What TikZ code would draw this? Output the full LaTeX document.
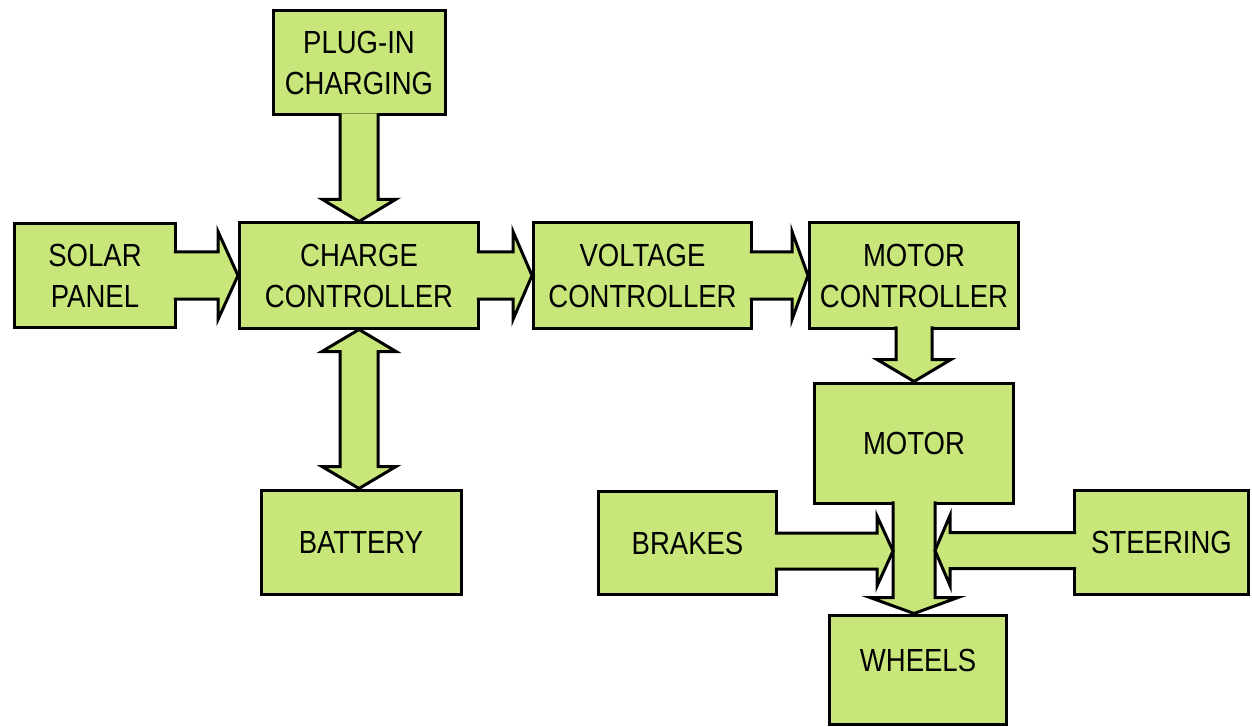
\documentclass[tikz,border=0pt]{standalone}
\usepackage{fontspec}
\setmainfont{Liberation Sans}[FakeStretch=0.86]
\usetikzlibrary{positioning, calc}

\definecolor{boxgreen}{RGB}{200,230,122}

\tikzset{
    box/.style={draw, line width=1.5pt, fill=boxgreen, align=center, inner sep=0pt,
                font=\fontsize{16}{20.5}\selectfont},
    barrow/.style={draw, line width=1.5pt, fill=boxgreen, line join=miter}
}

% block arrows: tail, tip, shaft half width, head half width, head length (signed)
\newcommand\hbarrow[5]{%
    \draw[barrow] let \p1=#1, \p2=#2 in
        ({\x1-(#5)/abs(#5)*1.6pt},{\y1+#3}) -- ({\x2-(#5)},{\y1+#3}) -- ({\x2-(#5)},{\y1+#4})
        -- (\x2,\y1) -- ({\x2-(#5)},{\y1-#4}) -- ({\x2-(#5)},{\y1-#3})
        -- ({\x1-(#5)/abs(#5)*1.6pt},{\y1-#3});}
\newcommand\vbarrow[5]{%
    \draw[barrow] let \p1=#1, \p2=#2 in
        ({\x1+#3},{\y1-(#5)/abs(#5)*1.6pt}) -- ({\x1+#3},{\y2-(#5)}) -- ({\x1+#4},{\y2-(#5)})
        -- (\x1,\y2) -- ({\x1-#4},{\y2-(#5)}) -- ({\x1-#3},{\y2-(#5)})
        -- ({\x1-#3},{\y1-(#5)/abs(#5)*1.6pt});}

\begin{document}
\begin{tikzpicture}[x=0.5pt, y=-0.5pt]

    \path[fill=white] (0,0) rectangle (1252,727);
    \useasboundingbox (0,0) rectangle (1252,727);

    \node(solar)[box, minimum width=80.5pt, minimum height=52pt] at (95,275.5) {SOLAR\\PANEL};
    \node(charge)[box, minimum width=119.5pt, minimum height=52.5pt, right=30.5pt of solar]{CHARGE\\CONTROLLER};
    \node(volt)[box, minimum width=109pt, minimum height=52.5pt, right=26pt of charge]{VOLTAGE\\CONTROLLER};
    \node(motorctrl)[box, minimum width=104.5pt, minimum height=52.5pt, right=27.5pt of volt]{MOTOR\\CONTROLLER};
    \node(plugin)[box, minimum width=86pt, minimum height=52pt, above=52.5pt of charge]{PLUG-IN\\CHARGING};
    \node(battery)[box, minimum width=100pt, minimum height=52pt, below=79.5pt of charge, xshift=1pt]{BATTERY};
    \node(motor)[box, minimum width=99.5pt, minimum height=60pt, below=26pt of motorctrl]{MOTOR};
    \node(wheels)[box, minimum width=88.5pt, minimum height=54.5pt, text depth=9pt, below=54.5pt of motor, xshift=2pt]{WHEELS};
    \node(brakes)[box, minimum width=89pt, minimum height=51.5pt] at (687.5,543) {BRAKES};
    \node(steering)[box, minimum width=87pt, minimum height=52pt] at (1161.5,542.5) {STEERING};

    \coordinate(brakein) at ([xshift=-10.5pt]motor.south);
    \coordinate(steerin) at ([xshift=10.5pt]motor.south);

    \vbarrow{(plugin.south)}{(charge.north)}{9.5pt}{18.25pt}{-11pt}
    \hbarrow{(solar.east)}{(charge.west)}{11.75pt}{22pt}{10pt}
    \hbarrow{(charge.east)}{(volt.west)}{11.75pt}{22pt}{9.5pt}
    \hbarrow{(volt.east)}{(motorctrl.west)}{11.75pt}{22pt}{8pt}
    \vbarrow{(motorctrl.south)}{(motor.north)}{9pt}{18.5pt}{-11pt}
    \vbarrow{(motor.south)}{(wheels.north)}{10.5pt}{22pt}{-8pt}
    \hbarrow{([yshift=-4pt]brakes.east)}{(brakein)}{9pt}{17.5pt}{8pt}
    \hbarrow{([yshift=-4pt]steering.west)}{(steerin)}{9pt}{17.5pt}{-7.5pt}

    \draw[barrow] let \p1=(charge.south), \p2=(battery.north) in
        (\x1,\y1) -- (\x1+18.5pt,\y1-11pt) -- (\x1+9.5pt,\y1-11pt) -- (\x1+9.5pt,\y2+11pt)
        -- (\x1+18.5pt,\y2+11pt) -- (\x1,\y2) -- (\x1-18.5pt,\y2+11pt) -- (\x1-9.5pt,\y2+11pt)
        -- (\x1-9.5pt,\y1-11pt) -- (\x1-18.5pt,\y1-11pt) -- cycle;

\end{tikzpicture}
\end{document}
